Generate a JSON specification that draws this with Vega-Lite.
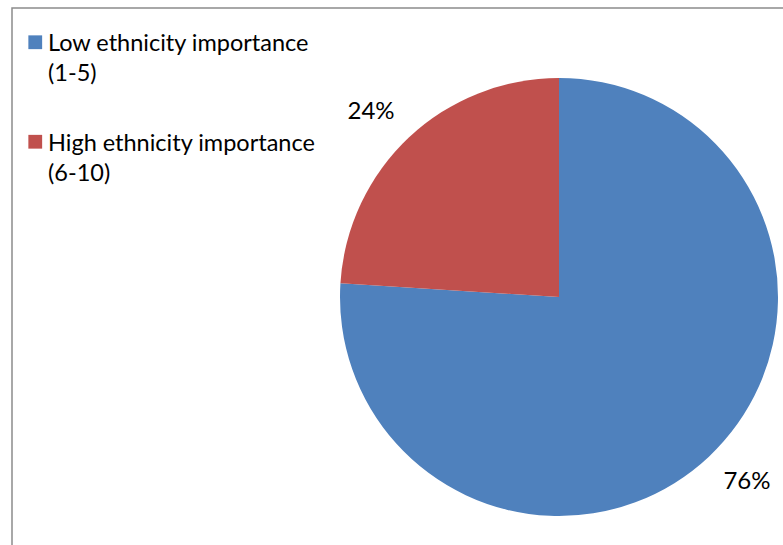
{
  "$schema": "https://vega.github.io/schema/vega-lite/v6.json",
  "width": 771,
  "height": 537,
  "autosize": {"type": "none"},
  "padding": {"left": 12, "top": 8, "right": 0, "bottom": 0},
  "background": "white",
  "view": {"stroke": "#8c8c8c", "strokeWidth": 1.5, "strokeDash": [771, 1308, 537]},
  "config": {"font": "Lato"},
  "data": {
    "values": [
      {"category": "Low ethnicity importance (1-5)", "value": 0.76},
      {"category": "High ethnicity importance (6-10)", "value": 0.24}
    ]
  },
  "encoding": {
    "theta": {"field": "value", "type": "quantitative", "stack": true},
    "order": {"field": "value", "type": "quantitative", "sort": "descending"}
  },
  "layer": [
    {
      "mark": {"type": "arc", "outerRadius": 219, "x": 547, "y": 289},
      "encoding": {
        "color": {
          "field": "category",
          "type": "nominal",
          "sort": ["Low ethnicity importance (1-5)", "High ethnicity importance (6-10)"],
          "scale": {
            "domain": ["Low ethnicity importance (1-5)", "High ethnicity importance (6-10)"],
            "range": ["#4F81BD", "#C0504D"]
          },
          "legend": {
            "orient": "none",
            "legendX": 11.5,
            "legendY": 22.5,
            "title": null,
            "symbolType": "square",
            "symbolSize": 190,
            "symbolStrokeWidth": 0,
            "labelFont": "Lato",
            "labelFontSize": 23.5,
            "labelColor": "#000000",
            "labelLimit": 400,
            "labelOffset": 1,
            "labelBaseline": "alphabetic",
            "rowPadding": 43.5,
            "labelExpr": "datum.label == 'Low ethnicity importance (1-5)' ? ['Low ethnicity importance', '(1-5)'] : ['High ethnicity importance', '(6-10)']",
            "encode": {"labels": {"update": {"dy": {"value": 9}, "lineHeight": {"value": 30}}}}
          }
        }
      }
    },
    {
      "mark": {"type": "text", "radius": 264, "thetaOffset": -0.0384, "x": 547, "y": 289, "fontSize": 24, "font": "Lato", "color": "#000000"},
      "encoding": {
        "text": {"field": "value", "type": "quantitative", "format": ".0%"}
      }
    }
  ]
}
